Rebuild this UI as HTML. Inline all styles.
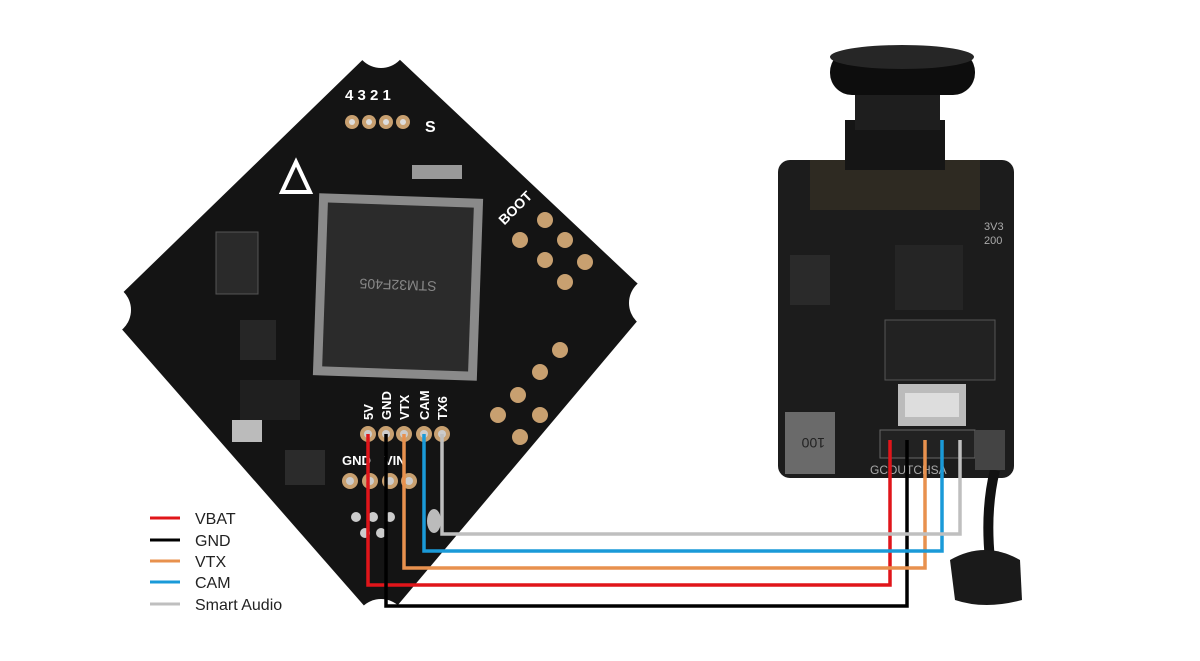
<!DOCTYPE html>
<html><head><meta charset="utf-8"><style>
html,body{margin:0;padding:0;background:#fff;}
svg{display:block;font-family:"Liberation Sans",sans-serif;}
</style></head><body>
<svg width="1200" height="661" viewBox="0 0 1200 661" xmlns="http://www.w3.org/2000/svg">
<!-- flight controller board -->
<g>
  <polygon points="381,42 655,300 381,625 105,310" fill="#141414"/>
  <!-- mount holes -->
  <circle cx="381" cy="42" r="26" fill="#fff"/>
  <circle cx="655" cy="303" r="26" fill="#fff"/>
  <circle cx="105" cy="310" r="26" fill="#fff"/>
  <circle cx="381" cy="625" r="26" fill="#fff"/>
  <!-- MCU -->
  <g transform="rotate(2 398 287)">
    <rect x="316" y="196" width="164" height="182" fill="#8a8a8a"/>
    <rect x="325" y="205" width="146" height="164" fill="#2b2b2b"/>
    <text x="398" y="290" fill="#888" font-size="14" text-anchor="middle" transform="rotate(180 398 285)">STM32F405</text>
  </g>
  <!-- small chips -->
  <rect x="216" y="232" width="42" height="62" fill="#2a2a2a" stroke="#555"/>
  <rect x="240" y="320" width="36" height="40" fill="#262626"/>
  <rect x="232" y="420" width="30" height="22" fill="#bbb"/>
  <rect x="285" y="450" width="40" height="35" fill="#2b2b2b"/>
  <rect x="412" y="165" width="50" height="14" fill="#999"/>
  <rect x="240" y="380" width="60" height="40" fill="#1f1f1f"/>
  <!-- top pads -->
  <g fill="#c8a070"><circle cx="352" cy="122" r="7"/><circle cx="369" cy="122" r="7"/><circle cx="386" cy="122" r="7"/><circle cx="403" cy="122" r="7"/></g>
  <g fill="#ddd"><circle cx="352" cy="122" r="3"/><circle cx="369" cy="122" r="3"/><circle cx="386" cy="122" r="3"/><circle cx="403" cy="122" r="3"/></g>
  <text x="345" y="100" fill="#fff" font-size="15" font-weight="bold">4 3 2 1</text>
  <text x="425" y="132" fill="#fff" font-size="16" font-weight="bold">S</text>
  <polygon points="296,162 282,192 310,192" fill="none" stroke="#fff" stroke-width="4"/>
  <text x="500" y="215" fill="#fff" font-size="14" font-weight="bold" transform="rotate(-45 515 215)">BOOT</text>
  <g fill="#c8a070"><circle cx="545" cy="220" r="8"/><circle cx="565" cy="240" r="8"/><circle cx="545" cy="260" r="8"/><circle cx="520" cy="240" r="8"/><circle cx="585" cy="262" r="8"/><circle cx="565" cy="282" r="8"/></g>
  <g fill="#c8a070"><circle cx="560" cy="350" r="8"/><circle cx="540" cy="372" r="8"/><circle cx="518" cy="395" r="8"/><circle cx="498" cy="415" r="8"/><circle cx="540" cy="415" r="8"/><circle cx="520" cy="437" r="8"/></g>
  <!-- bottom pads -->
  <g fill="#c8a070"><circle cx="368" cy="434" r="8"/><circle cx="386" cy="434" r="8"/><circle cx="404" cy="434" r="8"/><circle cx="424" cy="434" r="8"/><circle cx="442" cy="434" r="8"/>
  <circle cx="350" cy="481" r="8"/><circle cx="370" cy="481" r="8"/><circle cx="390" cy="481" r="8"/><circle cx="409" cy="481" r="8"/></g>
  <g fill="#ccc"><circle cx="368" cy="434" r="4"/><circle cx="386" cy="434" r="4"/><circle cx="404" cy="434" r="4"/><circle cx="424" cy="434" r="4"/><circle cx="442" cy="434" r="4"/>
  <circle cx="350" cy="481" r="4"/><circle cx="370" cy="481" r="4"/><circle cx="390" cy="481" r="4"/><circle cx="409" cy="481" r="4"/>
  <circle cx="356" cy="517" r="5"/><circle cx="373" cy="517" r="5"/><circle cx="390" cy="517" r="5"/><circle cx="365" cy="533" r="5"/><circle cx="381" cy="533" r="5"/></g>
  <ellipse cx="434" cy="521" rx="7" ry="12" fill="#bbb"/>
  <g fill="#fff" font-size="13" font-weight="bold">
    <text transform="translate(373 420) rotate(-90)">5V</text>
    <text transform="translate(391 420) rotate(-90)">GND</text>
    <text transform="translate(409 420) rotate(-90)">VTX</text>
    <text transform="translate(429 420) rotate(-90)">CAM</text>
    <text transform="translate(447 420) rotate(-90)">TX6</text>
    <text x="342" y="465">GND</text><text x="384" y="465">VIN</text>
  </g>
</g>
<!-- camera/VTX -->
<g>
  <rect x="778" y="160" width="236" height="318" rx="12" fill="#1c1c1c"/>
  <rect x="810" y="160" width="170" height="50" fill="#2e2a22"/>
  <rect x="845" y="120" width="100" height="50" fill="#151515"/>
  <rect x="855" y="85" width="85" height="45" fill="#1e1e1e"/>
  <rect x="830" y="50" width="145" height="45" rx="22" fill="#0d0d0d"/>
  <ellipse cx="902" cy="57" rx="72" ry="12" fill="#262626"/>
  <rect x="790" y="255" width="40" height="50" fill="#2a2a2a"/>
  <rect x="895" y="245" width="68" height="65" fill="#252525"/>
  <rect x="885" y="320" width="110" height="60" fill="#222" stroke="#555"/>
  <rect x="898" y="384" width="68" height="42" fill="#bbb"/>
  <rect x="905" y="393" width="54" height="24" fill="#ddd"/>
  <rect x="785" y="412" width="50" height="62" fill="#6a6a6a"/>
  <text x="795" y="448" fill="#222" font-size="14" transform="rotate(180 810 443)">100</text>
  <text x="984" y="230" fill="#aaa" font-size="11">3V3</text><text x="984" y="244" fill="#aaa" font-size="11">200</text>
  <rect x="880" y="430" width="95" height="28" fill="#222" stroke="#666"/>
  <text x="870" y="474" fill="#aaa" font-size="12">GCOUTCHSA</text>
</g>
<!-- antenna cable -->
<path d="M995 470 Q985 510 990 560" stroke="#111" stroke-width="10" fill="none"/>
<path d="M950 560 Q985 540 1020 560 L1022 600 Q985 610 955 600 Z" fill="#1a1a1a"/>
<rect x="975" y="430" width="30" height="40" fill="#444"/>
<!-- wires -->
<g fill="none" stroke-width="3.5">
  <polyline points="368,434 368,585 890,585 890,440" stroke="#e0151a"/>
  <polyline points="386,434 386,606 907,606 907,440" stroke="#000"/>
  <polyline points="404,434 404,568 925,568 925,440" stroke="#e8914e"/>
  <polyline points="424,434 424,551 942,551 942,440" stroke="#1a9ad8"/>
  <polyline points="442,434 442,534 960,534 960,440" stroke="#bfbfbf"/>
</g>
<!-- legend -->
<g stroke-width="3">
  <line x1="150" y1="518" x2="180" y2="518" stroke="#e0151a"/>
  <line x1="150" y1="540" x2="180" y2="540" stroke="#000"/>
  <line x1="150" y1="561" x2="180" y2="561" stroke="#e8914e"/>
  <line x1="150" y1="582" x2="180" y2="582" stroke="#1a9ad8"/>
  <line x1="150" y1="604" x2="180" y2="604" stroke="#bfbfbf"/>
</g>
<g font-size="16" fill="#222">
  <text x="195" y="524">VBAT</text><text x="195" y="546">GND</text><text x="195" y="567">VTX</text>
  <text x="195" y="588">CAM</text><text x="195" y="610">Smart Audio</text>
</g>
</svg>
</body></html>
